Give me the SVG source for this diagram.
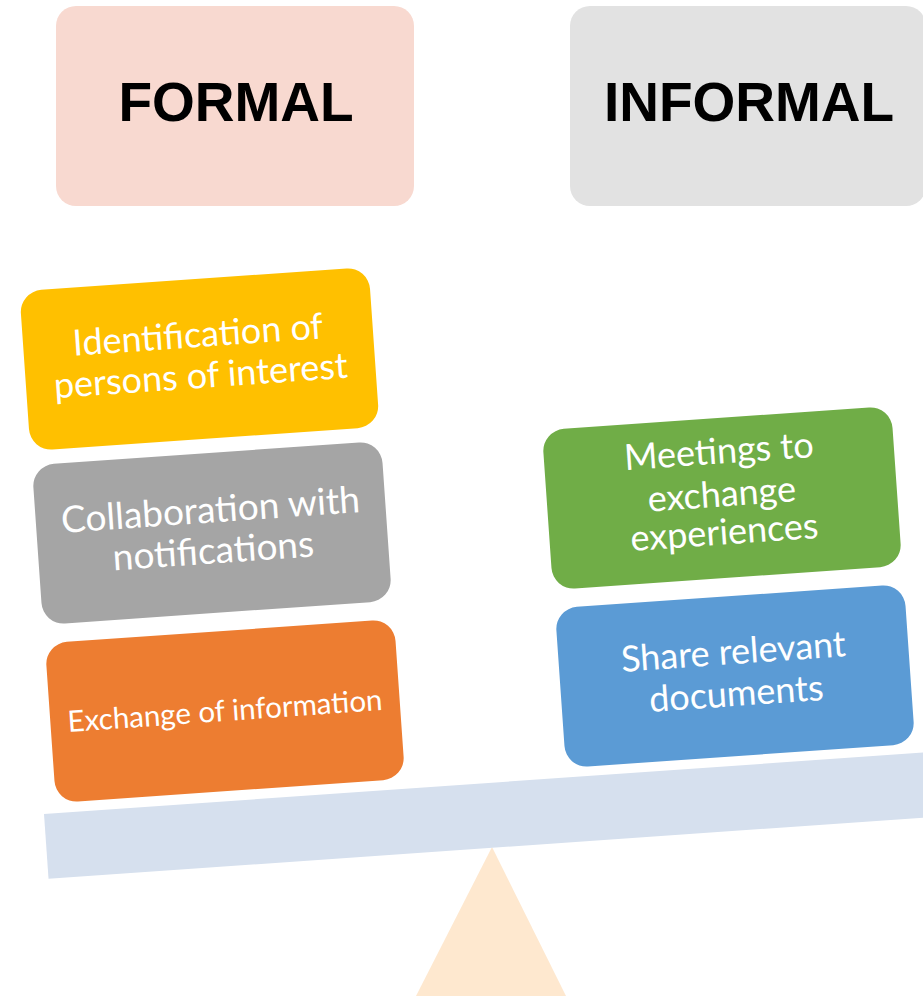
<svg xmlns="http://www.w3.org/2000/svg" width="923" height="996" viewBox="0 0 923 996">
<style>
.t{font-family:Lato,"Open Sans","DejaVu Sans",sans-serif;fill:#FFFFFF;text-anchor:middle;font-size:36px}
.h{font-family:"Liberation Sans",Arial,sans-serif;font-weight:bold;fill:#000000;text-anchor:middle;font-size:55px}
</style>
<rect width="923" height="996" fill="#FFFFFF"/>
<g id="formal">
<rect x="56" y="6" width="358" height="200" rx="20" fill="#F8D9D0"/>
<text class="h" x="236" y="121">FORMAL</text>
</g>
<g id="informal">
<rect x="570" y="6" width="356" height="200" rx="20" fill="#E2E2E2"/>
<text class="h" x="749" y="121">INFORMAL</text>
</g>
<g id="scale">
<polygon points="492,847 416,996 566,996" fill="#FEE8CF"/>
<rect x="44" y="814" width="1000" height="65" fill="#D6E0EE" transform="rotate(-4 44 814)"/>
</g>
<g id="identification" transform="rotate(-4 199.5 359)">
<rect x="24.5" y="279" width="350" height="160" rx="22" fill="#FFC000"/>
<text class="t" x="199.5" y="347">Identification of</text>
<text class="t" x="199.5" y="388">persons of interest</text>
</g>
<g id="collaboration" transform="rotate(-4 212 533)">
<rect x="37" y="453" width="350" height="160" rx="22" fill="#A5A5A5"/>
<text class="t" x="212" y="522.5" style="font-size:37px">Collaboration with</text>
<text class="t" x="212" y="563.5" style="font-size:37px">notifications</text>
</g>
<g id="exchange" transform="rotate(-4 225 711)">
<rect x="50" y="631" width="350" height="160" rx="22" fill="#ED7D31"/>
<text class="t" x="225" y="721" style="font-size:29.5px">Exchange of information</text>
</g>
<g id="meetings" transform="rotate(-4 722 498)">
<rect x="547" y="418" width="350" height="160" rx="22" fill="#70AD47"/>
<text class="t" x="722" y="463.5">Meetings to</text>
<text class="t" x="722" y="506.5">exchange</text>
<text class="t" x="722" y="544.5">experiences</text>
</g>
<g id="share" transform="rotate(-4 735 676)">
<rect x="560" y="596" width="350" height="160" rx="22" fill="#5B9BD5"/>
<text class="t" x="735" y="664">Share relevant</text>
<text class="t" x="735" y="706">documents</text>
</g>
</svg>
